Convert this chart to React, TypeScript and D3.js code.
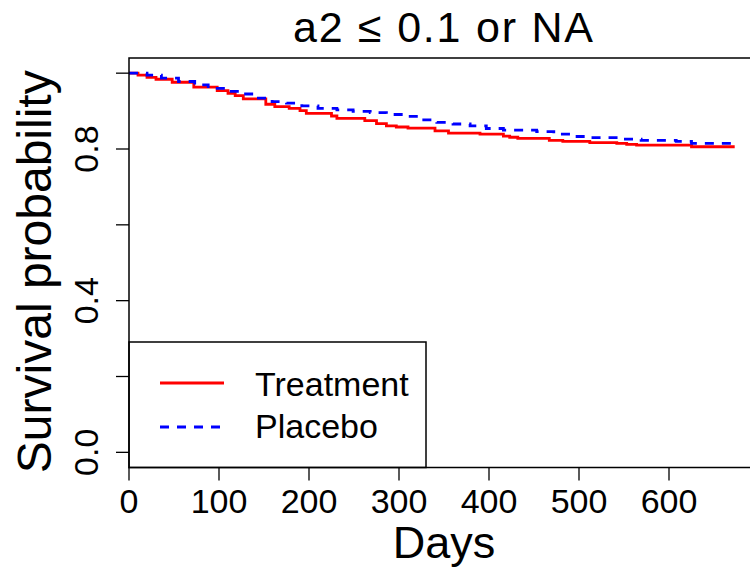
import React from "react";
import * as d3 from "d3";

const treatTimes = [0, 10, 20, 30, 48, 72, 98, 110, 118, 127, 152, 162, 178, 190, 197, 225, 231, 262, 275, 286, 297, 310, 340, 355, 390, 416, 423, 432, 467, 482, 512, 542, 553, 564, 625];
const treatSurv = [1.0, 0.995, 0.989, 0.984, 0.976, 0.963, 0.954, 0.947, 0.941, 0.932, 0.918, 0.912, 0.907, 0.901, 0.894, 0.887, 0.881, 0.875, 0.867, 0.861, 0.858, 0.855, 0.848, 0.842, 0.839, 0.834, 0.831, 0.828, 0.823, 0.82, 0.817, 0.815, 0.812, 0.81, 0.806];
const placeboTimes = [0, 20, 36, 55, 73, 88, 107, 123, 138, 159, 175, 192, 210, 231, 249, 268, 286, 305, 323, 342, 360, 379, 397, 416, 453, 472, 490, 510, 549, 569, 608, 625];
const placeboSurv = [1.0, 0.995, 0.987, 0.978, 0.969, 0.96, 0.952, 0.945, 0.934, 0.925, 0.921, 0.914, 0.907, 0.903, 0.899, 0.896, 0.891, 0.886, 0.877, 0.87, 0.866, 0.861, 0.854, 0.85, 0.846, 0.839, 0.833, 0.83, 0.826, 0.823, 0.82, 0.815];
const endTime = 673;

const xTicks = [0, 100, 200, 300, 400, 500, 600];
const yTicks = [0, 0.2, 0.4, 0.6, 0.8, 1.0];
const yTickLabels = ["0.0", "", "0.4", "", "0.8", ""];
const legendLabels = ["Treatment", "Placebo"];
const title = "a2 \u2264 0.1 or NA";

const FONT = "'Liberation Sans', Arial, Helvetica, sans-serif";

export default function App() {
  const W = 750, H = 570;
  const left = 129, right = 759, top = 58, bottom = 467.5;
  const x = d3.scaleLinear().domain([0, 700]).range([left, right]);
  const y = d3.scaleLinear().domain([-0.04, 1.04]).range([bottom, top]);

  const line = d3
    .line<[number, number]>()
    .x((d) => x(d[0]))
    .y((d) => y(d[1]))
    .curve(d3.curveStepAfter);

  const mk = (ts: number[], ss: number[]): [number, number][] => {
    const pts: [number, number][] = ts.map((t, i) => [t, ss[i]]);
    pts.push([endTime, ss[ss.length - 1]]);
    return pts;
  };

  const treatPath = line(mk(treatTimes, treatSurv)) || "";
  const placeboPath = line(mk(placeboTimes, placeboSurv)) || "";

  const centerX = (left + right) / 2;

  return (
    <svg
      width={W}
      height={H}
      style={{ position: "absolute", left: 0, top: 0, background: "#fff" }}
      fontFamily={FONT}
    >
      <rect x={0} y={0} width={W} height={H} fill="#fff" />
      <defs>
        <clipPath id="plotclip">
          <rect x={left} y={top} width={right - left} height={bottom - top} />
        </clipPath>
      </defs>

      {/* title */}
      <text
        x={centerX - 1}
        y={42}
        textAnchor="middle"
        fontSize={43}
        fill="#000"
        textLength={300}
        lengthAdjust="spacing"
      >
        {title}
      </text>

      {/* curves */}
      <g clipPath="url(#plotclip)">
        <path d={treatPath} fill="none" stroke="#ff0000" strokeWidth={2.8} />
        <path
          d={placeboPath}
          fill="none"
          stroke="#0000ff"
          strokeWidth={2.8}
          strokeDasharray="9,8"
        />
      </g>

      {/* legend */}
      <rect x={left} y={342} width={426 - left} height={bottom - 342} fill="none" stroke="#000" strokeWidth={1.5} />
      <line x1={160} x2={224} y1={383} y2={383} stroke="#ff0000" strokeWidth={2.8} />
      <line x1={160} x2={224} y1={427} y2={427} stroke="#0000ff" strokeWidth={2.8} strokeDasharray="9,8" />
      <text x={255} y={396} fontSize={34} fill="#000">{legendLabels[0]}</text>
      <text x={255} y={438} fontSize={34} fill="#000">{legendLabels[1]}</text>

      {/* box */}
      <rect x={left} y={top} width={right - left} height={bottom - top} fill="none" stroke="#000" strokeWidth={1.5} />

      {/* x axis */}
      {xTicks.map((t) => (
        <g key={"xt" + t}>
          <line x1={x(t)} x2={x(t)} y1={bottom} y2={bottom + 13} stroke="#000" strokeWidth={1.3} />
          <text x={x(t)} y={513} textAnchor="middle" fontSize={34} fill="#000">
            {t}
          </text>
        </g>
      ))}

      {/* y axis */}
      {yTicks.map((t, i) => (
        <g key={"yt" + i}>
          <line x1={left - 13} x2={left} y1={y(t)} y2={y(t)} stroke="#000" strokeWidth={1.3} />
          {yTickLabels[i] && (
            <text
              transform={`translate(98,${y(t)}) rotate(-90)`}
              textAnchor="middle"
              fontSize={34}
              fill="#000"
            >
              {yTickLabels[i]}
            </text>
          )}
        </g>
      ))}

      {/* axis labels */}
      <text x={centerX} y={558} textAnchor="middle" fontSize={45} fill="#000">
        Days
      </text>
      <text
        transform={`translate(51,${(top + bottom) / 2 + 9}) rotate(-90)`}
        textAnchor="middle"
        fontSize={48}
        fill="#000"
      >
        Survival probability
      </text>
    </svg>
  );
}
